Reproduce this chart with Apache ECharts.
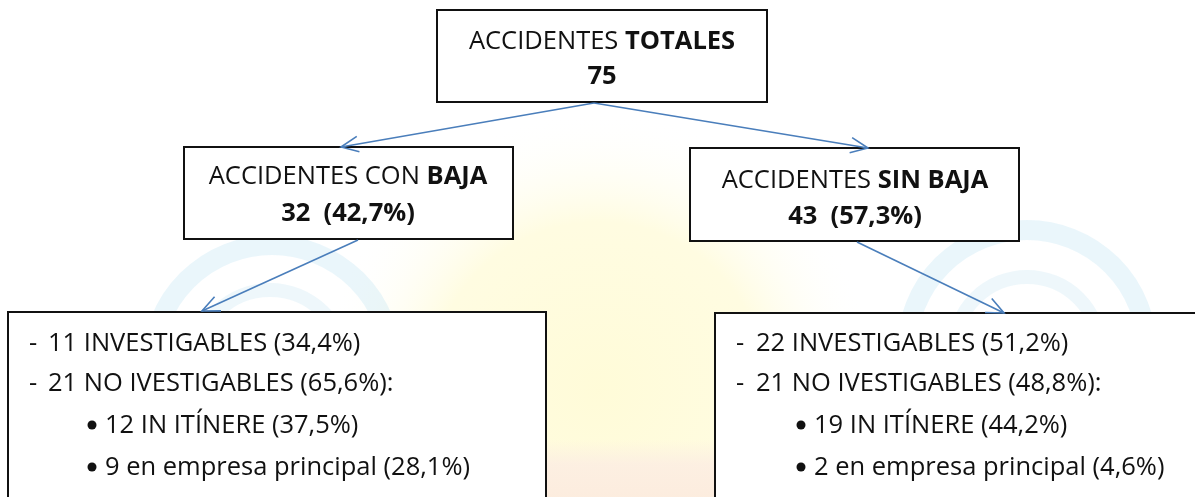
<!DOCTYPE html>
<html>
<head>
<meta charset="utf-8">
<script src="https://cdn.jsdelivr.net/npm/echarts@6/dist/echarts.min.js"></script>
<style>
    html, body { margin: 0; padding: 0; background: #fff; }
    #main { width: 1195px; height: 497px; }
</style>
</head>
<body>
<div id="main"></div>
<script>
// datos del esquema
var totalAccidentes = 75;
var grupos = ["CON BAJA", "SIN BAJA"];
var gruposCantidad = [32, 43];
var gruposPorcentaje = [42.7, 57.3];
var investigables = [11, 22];
var investigablesPct = [34.4, 51.2];
var noInvestigables = [21, 21];
var noInvestigablesPct = [65.6, 48.8];
var inItinere = [12, 19];
var inItinerePct = [37.5, 44.2];
var empresaPrincipal = [9, 2];
var empresaPrincipalPct = [28.1, 4.6];

function pct(v) {
    return "(" + v.toFixed(1).replace(".", ",") + "%)";
}

var FONT = "'Open Sans', Lato, sans-serif";
var SIZE = 25.5;
var BLUE = "#4a7ebb";

function caja(x, y, w, h) {
    return {
        type: "rect",
        shape: { x: x, y: y, width: w, height: h },
        style: { fill: "#fff", stroke: "#111", lineWidth: 2 },
        z: 10,
    };
}

function texto(x, y, txt, align) {
    return {
        type: "text",
        x: x,
        y: y,
        style: {
            text: txt,
            align: align || "center",
            verticalAlign: "middle",
            fill: "#111",
            font: SIZE + "px " + FONT,
            rich: {
                n: { fontSize: SIZE, fontFamily: FONT, fill: "#111" },
                b: { fontSize: SIZE, fontFamily: FONT, fontWeight: "bold", fill: "#111" },
            },
        },
        z: 20,
    };
}

// flecha con punta abierta
function flecha(x1, y1, x2, y2) {
    var a = Math.atan2(y2 - y1, x2 - x1);
    var len = 19, ang = 0.42;
    var p1 = [x2 - len * Math.cos(a - ang), y2 - len * Math.sin(a - ang)];
    var p2 = [x2 - len * Math.cos(a + ang), y2 - len * Math.sin(a + ang)];
    return {
        type: "group",
        z: 15,
        children: [
            { type: "line", shape: { x1: x1, y1: y1, x2: x2, y2: y2 }, style: { stroke: BLUE, lineWidth: 1.6 }, z: 15 },
            { type: "polyline", shape: { points: [p1, [x2, y2], p2] }, style: { stroke: BLUE, lineWidth: 1.6, fill: null }, z: 15 },
        ],
    };
}

function arco(cx, cy, r, grosor, color) {
    return {
        type: "arc",
        shape: { cx: cx, cy: cy, r: r, startAngle: Math.PI, endAngle: 2 * Math.PI },
        style: { stroke: color, lineWidth: grosor, fill: null },
        z: 1,
    };
}

// fondo tipo marca de agua
var fondo = [
    {
        type: "circle",
        shape: { cx: 598, cy: 390, r: 280 },
        style: {
            fill: {
                type: "radial", x: 0.5, y: 0.5, r: 0.5,
                colorStops: [
                    { offset: 0, color: "rgba(255,251,212,0.9)" },
                    { offset: 0.6, color: "rgba(255,251,215,0.75)" },
                    { offset: 1, color: "rgba(255,255,255,0)" },
                ],
            },
        },
        z: 0,
    },
    {
        type: "rect",
        shape: { x: 420, y: 440, width: 360, height: 60 },
        style: {
            fill: {
                type: "linear", x: 0, y: 0, x2: 0, y2: 1,
                colorStops: [
                    { offset: 0, color: "rgba(252,238,226,0)" },
                    { offset: 0.4, color: "rgba(252,238,226,0.9)" },
                    { offset: 1, color: "rgba(252,236,222,1)" },
                ],
            },
        },
        z: 0,
    },
    arco(272, 365, 120, 20, "rgba(160,212,235,0.22)"),
    arco(270, 365, 75, 14, "rgba(160,212,235,0.18)"),
    arco(1027, 350, 120, 20, "rgba(160,212,235,0.22)"),
    arco(1027, 350, 73, 14, "rgba(160,212,235,0.18)"),
];

var cajaGrupo = [
    { x: 184, y: 147, w: 329, h: 92, cx: 348, l1: 177, l2: 214 },
    { x: 690, y: 148, w: 329, h: 93, cx: 855, l1: 181, l2: 217 },
];
var cajaDetalle = [
    { x: 8, y: 312, w: 538, dash: 29, txt: 48, bullet: 92, sub: 105 },
    { x: 715, y: 313, w: 500, dash: 736, txt: 756, bullet: 801, sub: 814 },
];
var filas = [344, 384, 426, 468];

var elementos = fondo.slice();

// caja superior
elementos.push(caja(437, 10, 330, 92));
elementos.push(texto(602, 42, "{n|ACCIDENTES }{b|TOTALES}"));
elementos.push(texto(602, 77, "{b|" + totalAccidentes + "}"));

grupos.forEach(function (g, i) {
    var c = cajaGrupo[i];
    var partes = g.split(" ");
    var titulo = i === 0
        ? "{n|ACCIDENTES " + partes[0] + " }{b|" + partes[1] + "}"
        : "{n|ACCIDENTES }{b|" + g + "}";
    elementos.push(caja(c.x, c.y, c.w, c.h));
    elementos.push(texto(c.cx, c.l1, titulo));
    elementos.push(texto(c.cx, c.l2, "{b|" + gruposCantidad[i] + "  " + pct(gruposPorcentaje[i]) + "}"));

    var d = cajaDetalle[i];
    elementos.push(caja(d.x, d.y, d.w, 220));
    elementos.push(texto(d.dash, filas[0], "-", "left"));
    elementos.push(texto(d.txt, filas[0], investigables[i] + " INVESTIGABLES " + pct(investigablesPct[i]), "left"));
    elementos.push(texto(d.dash, filas[1], "-", "left"));
    elementos.push(texto(d.txt, filas[1], noInvestigables[i] + " NO IVESTIGABLES " + pct(noInvestigablesPct[i]) + ":", "left"));
    [2, 3].forEach(function (k) {
        elementos.push({
            type: "circle",
            shape: { cx: d.bullet, cy: filas[k] - 1, r: 4.5 },
            style: { fill: "#111" },
            z: 20,
        });
    });
    elementos.push(texto(d.sub, filas[2], inItinere[i] + " IN ITÍNERE " + pct(inItinerePct[i]), "left"));
    elementos.push(texto(d.sub, filas[3], empresaPrincipal[i] + " en empresa principal " + pct(empresaPrincipalPct[i]), "left"));
});

elementos.push(flecha(594, 103, 341, 147));
elementos.push(flecha(594, 103, 868, 148));
elementos.push(flecha(358, 240, 202, 311));
elementos.push(flecha(857, 242, 1004, 313));

var myChart = echarts.init(document.getElementById("main"));
var option = {
    backgroundColor: "#fff",
    animation: false,
    graphic: { elements: elementos },
};
myChart.setOption(option);
window.addEventListener("resize", function () {
    myChart.resize();
});
</script>
</body>
</html>
